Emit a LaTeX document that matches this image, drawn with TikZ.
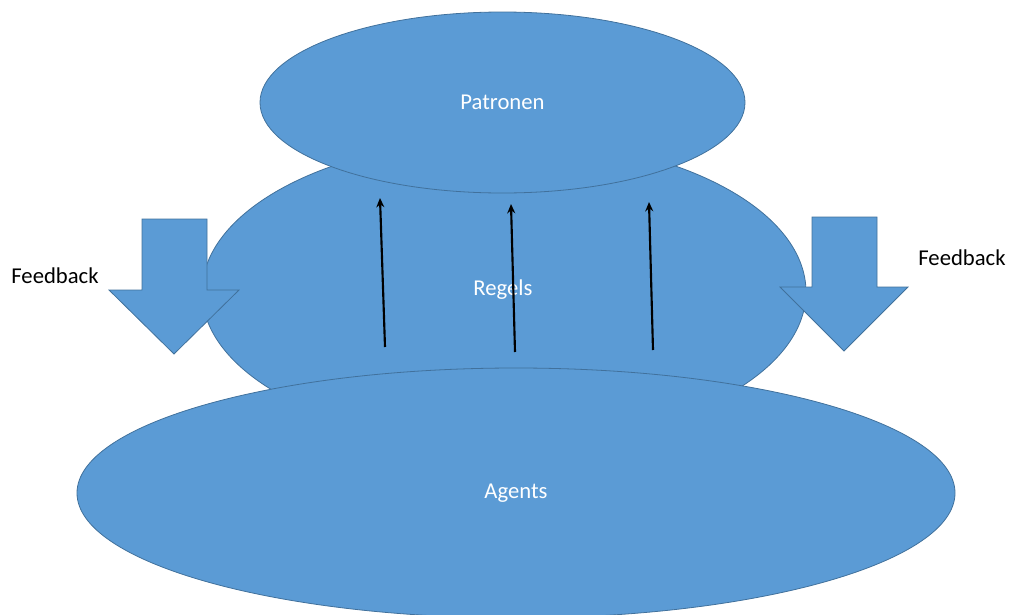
\documentclass[tikz,border=0pt]{standalone}
\usepackage{fontspec}
\setmainfont{Carlito}
\usetikzlibrary{shapes.geometric,arrows.meta}
\definecolor{blfill}{HTML}{5B9BD5}
\definecolor{blline}{HTML}{41719C}
\tikzset{
  blob/.style={ellipse, fill=blfill, draw=blline, line width=0.6pt, inner sep=0pt, text=white, font=\fontsize{17}{20}\selectfont},
  blockarrow/.style={fill=blfill, draw=blline, line width=0.6pt, line join=miter},
  uparrow/.style={draw=black, line width=1.6pt, -{Stealth[length=7pt,width=6pt]}},
  fblabel/.style={text=black, font=\fontsize{17}{20}\selectfont, inner sep=0pt}
}
\begin{document}
\begin{tikzpicture}[x=0.75pt,y=-0.75pt]
\useasboundingbox (0,0) rectangle (1010,614);
\begin{scope}
\clip (0,0) rectangle (1010,614);
% Regels
\node[blob, minimum width=453pt, minimum height=229.5pt] (regels) at (504,292) {};
\node[text=white, font=\fontsize{17}{20}\selectfont] (regelstxt) at (503,290) {Regels};
% Patronen
\node[blob, minimum width=363.75pt, minimum height=135.75pt] (patronen) at (502.5,102.5) {Patronen};
% Agents
\node[blob, minimum width=658.5pt, minimum height=187.5pt] (agents) at (516,493) {Agents};
% left feedback arrow
\draw[blockarrow] (142,219) -- (207,219) -- (207,290) -- (239,290) -- (174,354) coordinate (ltip) -- (109,290) -- (142,290) -- cycle;
% right feedback arrow
\draw[blockarrow] (812,217) -- (877,217) -- (877,287) -- (908,287) -- (844,351) coordinate (rtip) -- (780,287) -- (812,287) -- cycle;
% vertical arrows
\coordinate (a1s) at (385,347);
\coordinate (a1e) at (380,198);
\coordinate (a2s) at (515,352);
\coordinate (a2e) at (511,204);
\coordinate (a3s) at (653,350);
\coordinate (a3e) at (649,202);
\draw[uparrow] (a1s) -- (a1e);
\draw[uparrow] (a2s) -- (a2e);
\draw[uparrow] (a3s) -- (a3e);
\end{scope}
% labels
\node[fblabel] (fbl) at (55,276) {Feedback};
\node[fblabel] (fbr) at (962,258) {Feedback};
\end{tikzpicture}
\end{document}
